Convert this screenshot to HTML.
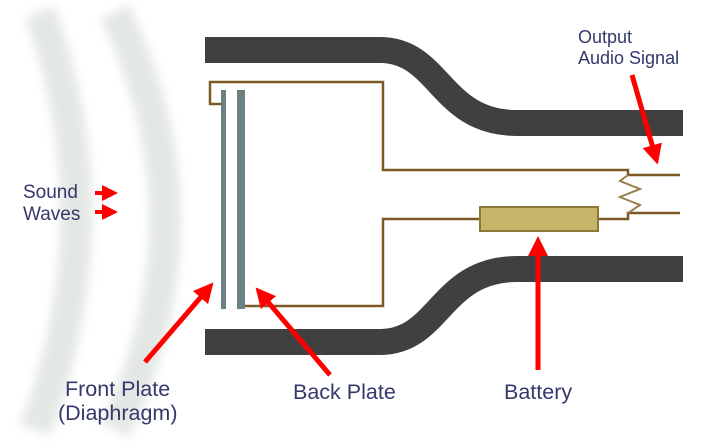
<!DOCTYPE html>
<html><head><style>
html,body{margin:0;padding:0;background:#fff;}
svg{display:block;}
text{font-family:"Liberation Sans",sans-serif;fill:#34386a;}
</style></head><body>
<svg width="708" height="447" viewBox="0 0 708 447" xmlns="http://www.w3.org/2000/svg">
<defs>
<filter id="b" x="-50%" y="-10%" width="200%" height="120%"><feGaussianBlur stdDeviation="5"/></filter>
<marker id="ah" markerWidth="4" markerHeight="4" refX="2" refY="2" orient="auto" markerUnits="strokeWidth">
<path d="M0,0 L4,2 L0,4 Z" fill="#f00"/></marker>
</defs>
<g filter="url(#b)" fill="none" stroke="#e4e8e4" stroke-width="32">
<path d="M40,12 Q115,220 35,430"/>
<path d="M115,12 Q215,220 115,430"/>
</g>
<path d="M205,50 H380 C440,50 440,123 517,123 H683" fill="none" stroke="#404040" stroke-width="26"/>
<path d="M205,342 H380 C440,342 440,269 517,269 H683" fill="none" stroke="#404040" stroke-width="26"/>
<g fill="none" stroke="#7d5a25" stroke-width="2.5">
<path d="M224,104 H210 V82 H383 V170 H628 V175 H680"/>
<path d="M245,306 H383 V219 H479"/>
<path d="M598,219 H628 V213 H680"/>
<path d="M628,175 L620,181 L640,189 L620,197 L640,205 L628,213" stroke="#9a8050" stroke-width="2"/>
</g>
<rect x="480" y="207" width="118" height="24" fill="#c8b469" stroke="#8a7a3a" stroke-width="2"/>
<rect x="221" y="90" width="5" height="219" fill="#6b8080"/>
<rect x="237" y="90" width="8" height="219" fill="#6b8080"/>
<g stroke="#f00" stroke-width="5" fill="none" marker-end="url(#ah)">
<line x1="145" y1="362" x2="207" y2="290"/>
<line x1="330" y1="375" x2="262" y2="295"/>
<line x1="538" y1="370" x2="538" y2="246"/>
<line x1="632" y1="75" x2="655" y2="155"/>
<line x1="95" y1="193" x2="110" y2="193" stroke-width="4"/>
<line x1="95" y1="212" x2="110" y2="212" stroke-width="4"/>
</g>
<text x="23" y="198" font-size="19">Sound</text>
<text x="23" y="220" font-size="19">Waves</text>
<text x="65" y="396" font-size="21.5">Front Plate</text>
<text x="58" y="420" font-size="21.5">(Diaphragm)</text>
<text x="293" y="399" font-size="21.5">Back Plate</text>
<text x="504" y="399" font-size="21.5">Battery</text>
<text x="578" y="43" font-size="18">Output</text>
<text x="578" y="64" font-size="18">Audio Signal</text>
</svg>
</body></html>
